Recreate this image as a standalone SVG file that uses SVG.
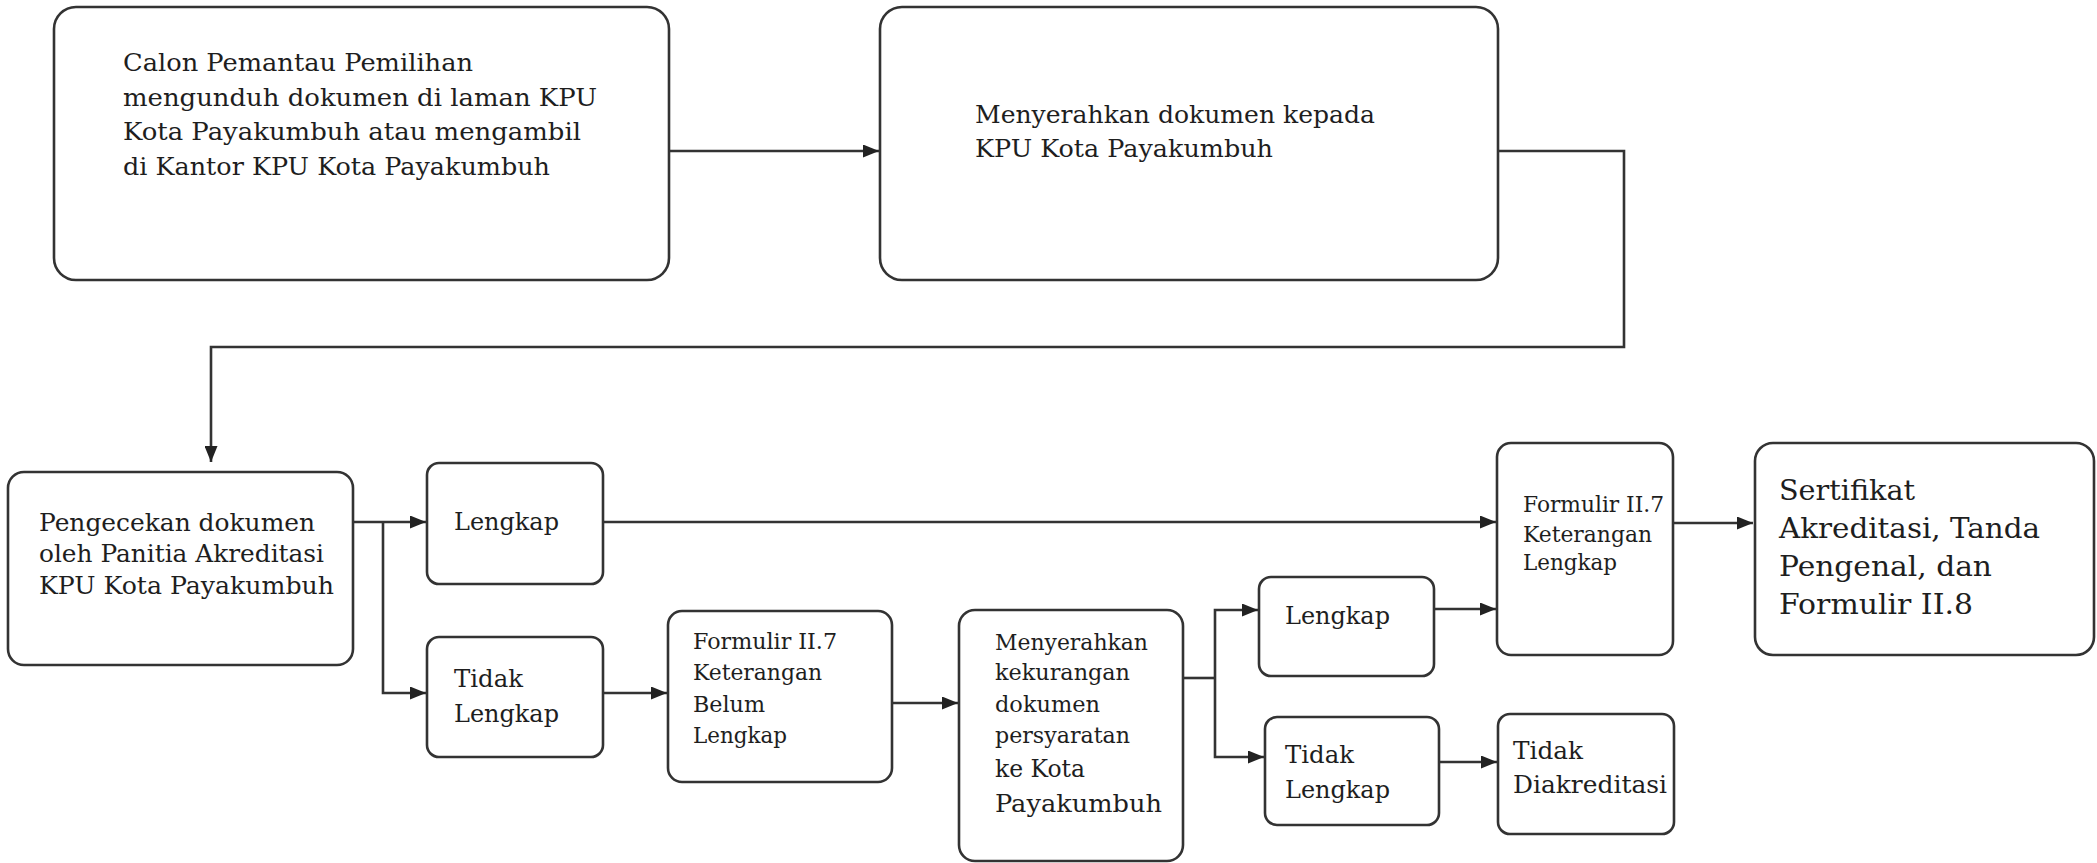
<svg xmlns="http://www.w3.org/2000/svg" width="2097" height="863" viewBox="0 0 2097 863">
<style>
.box{fill:#fff;stroke:#333;stroke-width:2.6}
.t{font-family:"DejaVu Serif","Liberation Serif",serif;fill:#1e1e1e}
.f25{font-size:25px}
.f24{font-size:24px}
.f22{font-size:22px}
.f28{font-size:28px}
.c{fill:none;stroke:#333;stroke-width:2.6}
</style>
<defs>
<marker id="ah" viewBox="0 0 16 13" refX="16" refY="6.5" markerWidth="16" markerHeight="13" markerUnits="userSpaceOnUse" orient="auto">
<path d="M0,0 L16,6.5 L0,13 z" fill="#222"/>
</marker>
</defs>
<rect width="2097" height="863" fill="#fff"/>
<g id="connectors">
<path class="c" d="M669,151 H879" marker-end="url(#ah)"/>
<path class="c" d="M1498,151 H1624 V347 H211 V462" marker-end="url(#ah)"/>
<path class="c" d="M353,522 H426" marker-end="url(#ah)"/>
<path class="c" d="M383,522 V693 H426" marker-end="url(#ah)"/>
<path class="c" d="M603,522 H1496" marker-end="url(#ah)"/>
<path class="c" d="M603,693 H667" marker-end="url(#ah)"/>
<path class="c" d="M892,703 H958" marker-end="url(#ah)"/>
<path class="c" d="M1183,678 H1215"/>
<path class="c" d="M1215,678 V610 H1258" marker-end="url(#ah)"/>
<path class="c" d="M1215,678 V757 H1264" marker-end="url(#ah)"/>
<path class="c" d="M1434,609 H1496" marker-end="url(#ah)"/>
<path class="c" d="M1437,762 H1497" marker-end="url(#ah)"/>
<path class="c" d="M1673,523 H1753" marker-end="url(#ah)"/>
</g>
<g id="n1">
<rect class="box" x="54" y="7" width="615" height="273" rx="22"/>
<text class="t f25" x="123" y="71" textLength="350" lengthAdjust="spacingAndGlyphs">Calon Pemantau Pemilihan</text>
<text class="t f25" x="123" y="106" textLength="474" lengthAdjust="spacingAndGlyphs">mengunduh dokumen di laman KPU</text>
<text class="t f25" x="123" y="140" textLength="458" lengthAdjust="spacingAndGlyphs">Kota Payakumbuh atau mengambil</text>
<text class="t f25" x="123" y="175" textLength="427" lengthAdjust="spacingAndGlyphs">di Kantor KPU Kota Payakumbuh</text>
</g>
<g id="n2">
<rect class="box" x="880" y="7" width="618" height="273" rx="22"/>
<text class="t f25" x="975" y="123" textLength="400" lengthAdjust="spacingAndGlyphs">Menyerahkan dokumen kepada</text>
<text class="t f25" x="975" y="157" textLength="298" lengthAdjust="spacingAndGlyphs">KPU Kota Payakumbuh</text>
</g>
<g id="n3">
<rect class="box" x="8" y="472" width="345" height="193" rx="16"/>
<text class="t f25" x="39" y="531" textLength="276" lengthAdjust="spacingAndGlyphs">Pengecekan dokumen</text>
<text class="t f25" x="39" y="562" textLength="285" lengthAdjust="spacingAndGlyphs">oleh Panitia Akreditasi</text>
<text class="t f25" x="39" y="594" textLength="295" lengthAdjust="spacingAndGlyphs">KPU Kota Payakumbuh</text>
</g>
<g id="n4">
<rect class="box" x="427" y="463" width="176" height="121" rx="12"/>
<text class="t f24" x="454" y="530" textLength="105" lengthAdjust="spacingAndGlyphs">Lengkap</text>
</g>
<g id="n5">
<rect class="box" x="427" y="637" width="176" height="120" rx="12"/>
<text class="t f24" x="454" y="687" textLength="69" lengthAdjust="spacingAndGlyphs">Tidak</text>
<text class="t f24" x="454" y="722" textLength="105" lengthAdjust="spacingAndGlyphs">Lengkap</text>
</g>
<g id="n6">
<rect class="box" x="668" y="611" width="224" height="171" rx="14"/>
<text class="t f22" x="693" y="649" textLength="144" lengthAdjust="spacingAndGlyphs">Formulir II.7</text>
<text class="t f22" x="693" y="680" textLength="129" lengthAdjust="spacingAndGlyphs">Keterangan</text>
<text class="t f22" x="693" y="712" textLength="72" lengthAdjust="spacingAndGlyphs">Belum</text>
<text class="t f22" x="693" y="743" textLength="94" lengthAdjust="spacingAndGlyphs">Lengkap</text>
</g>
<g id="n7">
<rect class="box" x="959" y="610" width="224" height="251" rx="16"/>
<text class="t f22" x="995" y="650" textLength="153" lengthAdjust="spacingAndGlyphs">Menyerahkan</text>
<text class="t f22" x="995" y="680" textLength="135" lengthAdjust="spacingAndGlyphs">kekurangan</text>
<text class="t f22" x="995" y="712" textLength="105" lengthAdjust="spacingAndGlyphs">dokumen</text>
<text class="t f22" x="995" y="743" textLength="135" lengthAdjust="spacingAndGlyphs">persyaratan</text>
<text class="t f25" x="995" y="777" textLength="90" lengthAdjust="spacingAndGlyphs">ke Kota</text>
<text class="t f25" x="995" y="812" textLength="167" lengthAdjust="spacingAndGlyphs">Payakumbuh</text>
</g>
<g id="n8">
<rect class="box" x="1259" y="577" width="175" height="99" rx="12"/>
<text class="t f24" x="1285" y="624" textLength="105" lengthAdjust="spacingAndGlyphs">Lengkap</text>
</g>
<g id="n9">
<rect class="box" x="1265" y="717" width="174" height="108" rx="12"/>
<text class="t f24" x="1285" y="763" textLength="69" lengthAdjust="spacingAndGlyphs">Tidak</text>
<text class="t f24" x="1285" y="798" textLength="105" lengthAdjust="spacingAndGlyphs">Lengkap</text>
</g>
<g id="n10">
<rect class="box" x="1497" y="443" width="176" height="212" rx="14"/>
<text class="t f22" x="1523" y="512" textLength="141" lengthAdjust="spacingAndGlyphs">Formulir II.7</text>
<text class="t f22" x="1523" y="542" textLength="129" lengthAdjust="spacingAndGlyphs">Keterangan</text>
<text class="t f22" x="1523" y="570" textLength="94" lengthAdjust="spacingAndGlyphs">Lengkap</text>
</g>
<g id="n11">
<rect class="box" x="1755" y="443" width="339" height="212" rx="18"/>
<text class="t f28" x="1779" y="500" textLength="136" lengthAdjust="spacingAndGlyphs">Sertifikat</text>
<text class="t f28" x="1779" y="538" textLength="261" lengthAdjust="spacingAndGlyphs">Akreditasi, Tanda</text>
<text class="t f28" x="1779" y="576" textLength="213" lengthAdjust="spacingAndGlyphs">Pengenal, dan</text>
<text class="t f28" x="1779" y="614" textLength="194" lengthAdjust="spacingAndGlyphs">Formulir II.8</text>
</g>
<g id="n12">
<rect class="box" x="1498" y="714" width="176" height="120" rx="12"/>
<text class="t f24" x="1513" y="759" textLength="70" lengthAdjust="spacingAndGlyphs">Tidak</text>
<text class="t f24" x="1513" y="793" textLength="154" lengthAdjust="spacingAndGlyphs">Diakreditasi</text>
</g>
</svg>
